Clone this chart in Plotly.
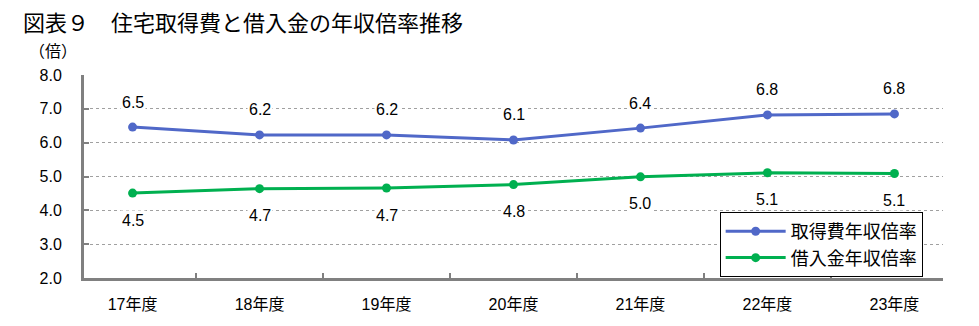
import plotly.graph_objects as go

categories = ["17年度", "18年度", "19年度", "20年度", "21年度", "22年度", "23年度"]
acq_values = [6.46, 6.23, 6.23, 6.08, 6.43, 6.82, 6.85]
acq_labels = ["6.5", "6.2", "6.2", "6.1", "6.4", "6.8", "6.8"]
loan_values = [4.51, 4.64, 4.66, 4.76, 4.99, 5.11, 5.09]
loan_labels = ["4.5", "4.7", "4.7", "4.8", "5.0", "5.1", "5.1"]
y_ticks = [2.0, 3.0, 4.0, 5.0, 6.0, 7.0, 8.0]

BLUE = "#5068C8"
GREEN = "#00B050"
FONT = "Liberation Sans, Arial, Noto Sans CJK JP, sans-serif"

fig = go.Figure()
fig.add_trace(go.Scatter(x=categories, y=acq_values, mode="lines+markers",
                         name="取得費年収倍率",
                         line=dict(color=BLUE, width=3),
                         marker=dict(color=BLUE, size=9)))
fig.add_trace(go.Scatter(x=categories, y=loan_values, mode="lines+markers",
                         name="借入金年収倍率",
                         line=dict(color=GREEN, width=3),
                         marker=dict(color=GREEN, size=9)))

annotations = []
for c, v, t in zip(categories, acq_values, acq_labels):
    annotations.append(dict(x=c, y=v, text=t, showarrow=False, yshift=25,
                            bgcolor="white", font=dict(size=16, color="black", family=FONT)))
for c, v, t in zip(categories, loan_values, loan_labels):
    annotations.append(dict(x=c, y=v, text=t, showarrow=False, yshift=-27,
                            bgcolor="white", font=dict(size=16, color="black", family=FONT)))

annotations.append(dict(xref="paper", yref="paper", x=-0.066, y=1.0, yshift=24,
                        xanchor="left", yanchor="middle", showarrow=False,
                        text="（倍）", font=dict(size=16, color="black", family=FONT)))
annotations.append(dict(xref="paper", yref="paper", x=-0.073, y=1.0, yshift=52,
                        xanchor="left", yanchor="middle", showarrow=False,
                        text="図表９　住宅取得費と借入金の年収倍率推移",
                        font=dict(size=22, color="black", family=FONT)))

fig.update_layout(
    width=979, height=326,
    margin=dict(l=84, r=36, t=75, b=48),
    paper_bgcolor="white", plot_bgcolor="white",
    font=dict(family=FONT, size=15, color="black"),
    showlegend=True,
    legend=dict(x=0.74, y=0.325, xanchor="left", yanchor="top",
                bgcolor="white", bordercolor="black", borderwidth=1,
                font=dict(size=18, family=FONT), tracegroupgap=0,
                itemwidth=60),
    annotations=annotations,
)
fig.update_xaxes(showline=True, linecolor="#808080", linewidth=3,
                 ticks="inside", tickson="boundaries", ticklen=5, tickcolor="#808080",
                 tickwidth=2, showgrid=False, mirror=False, ticklabelstandoff=10,
                 tickfont=dict(size=16, family=FONT))
fig.update_yaxes(range=[2, 8], tickvals=y_ticks, ticktext=[f"{v:.1f}" for v in y_ticks],
                 showline=True, linecolor="#808080", linewidth=3,
                 ticks="inside", ticklen=5, tickcolor="#808080", tickwidth=2,
                 showgrid=True, gridcolor="#A0A0A0", gridwidth=1, griddash="dot",
                 zeroline=False, ticklabelstandoff=16,
                 tickfont=dict(size=16, family=FONT))

fig.write_html("out.html")
